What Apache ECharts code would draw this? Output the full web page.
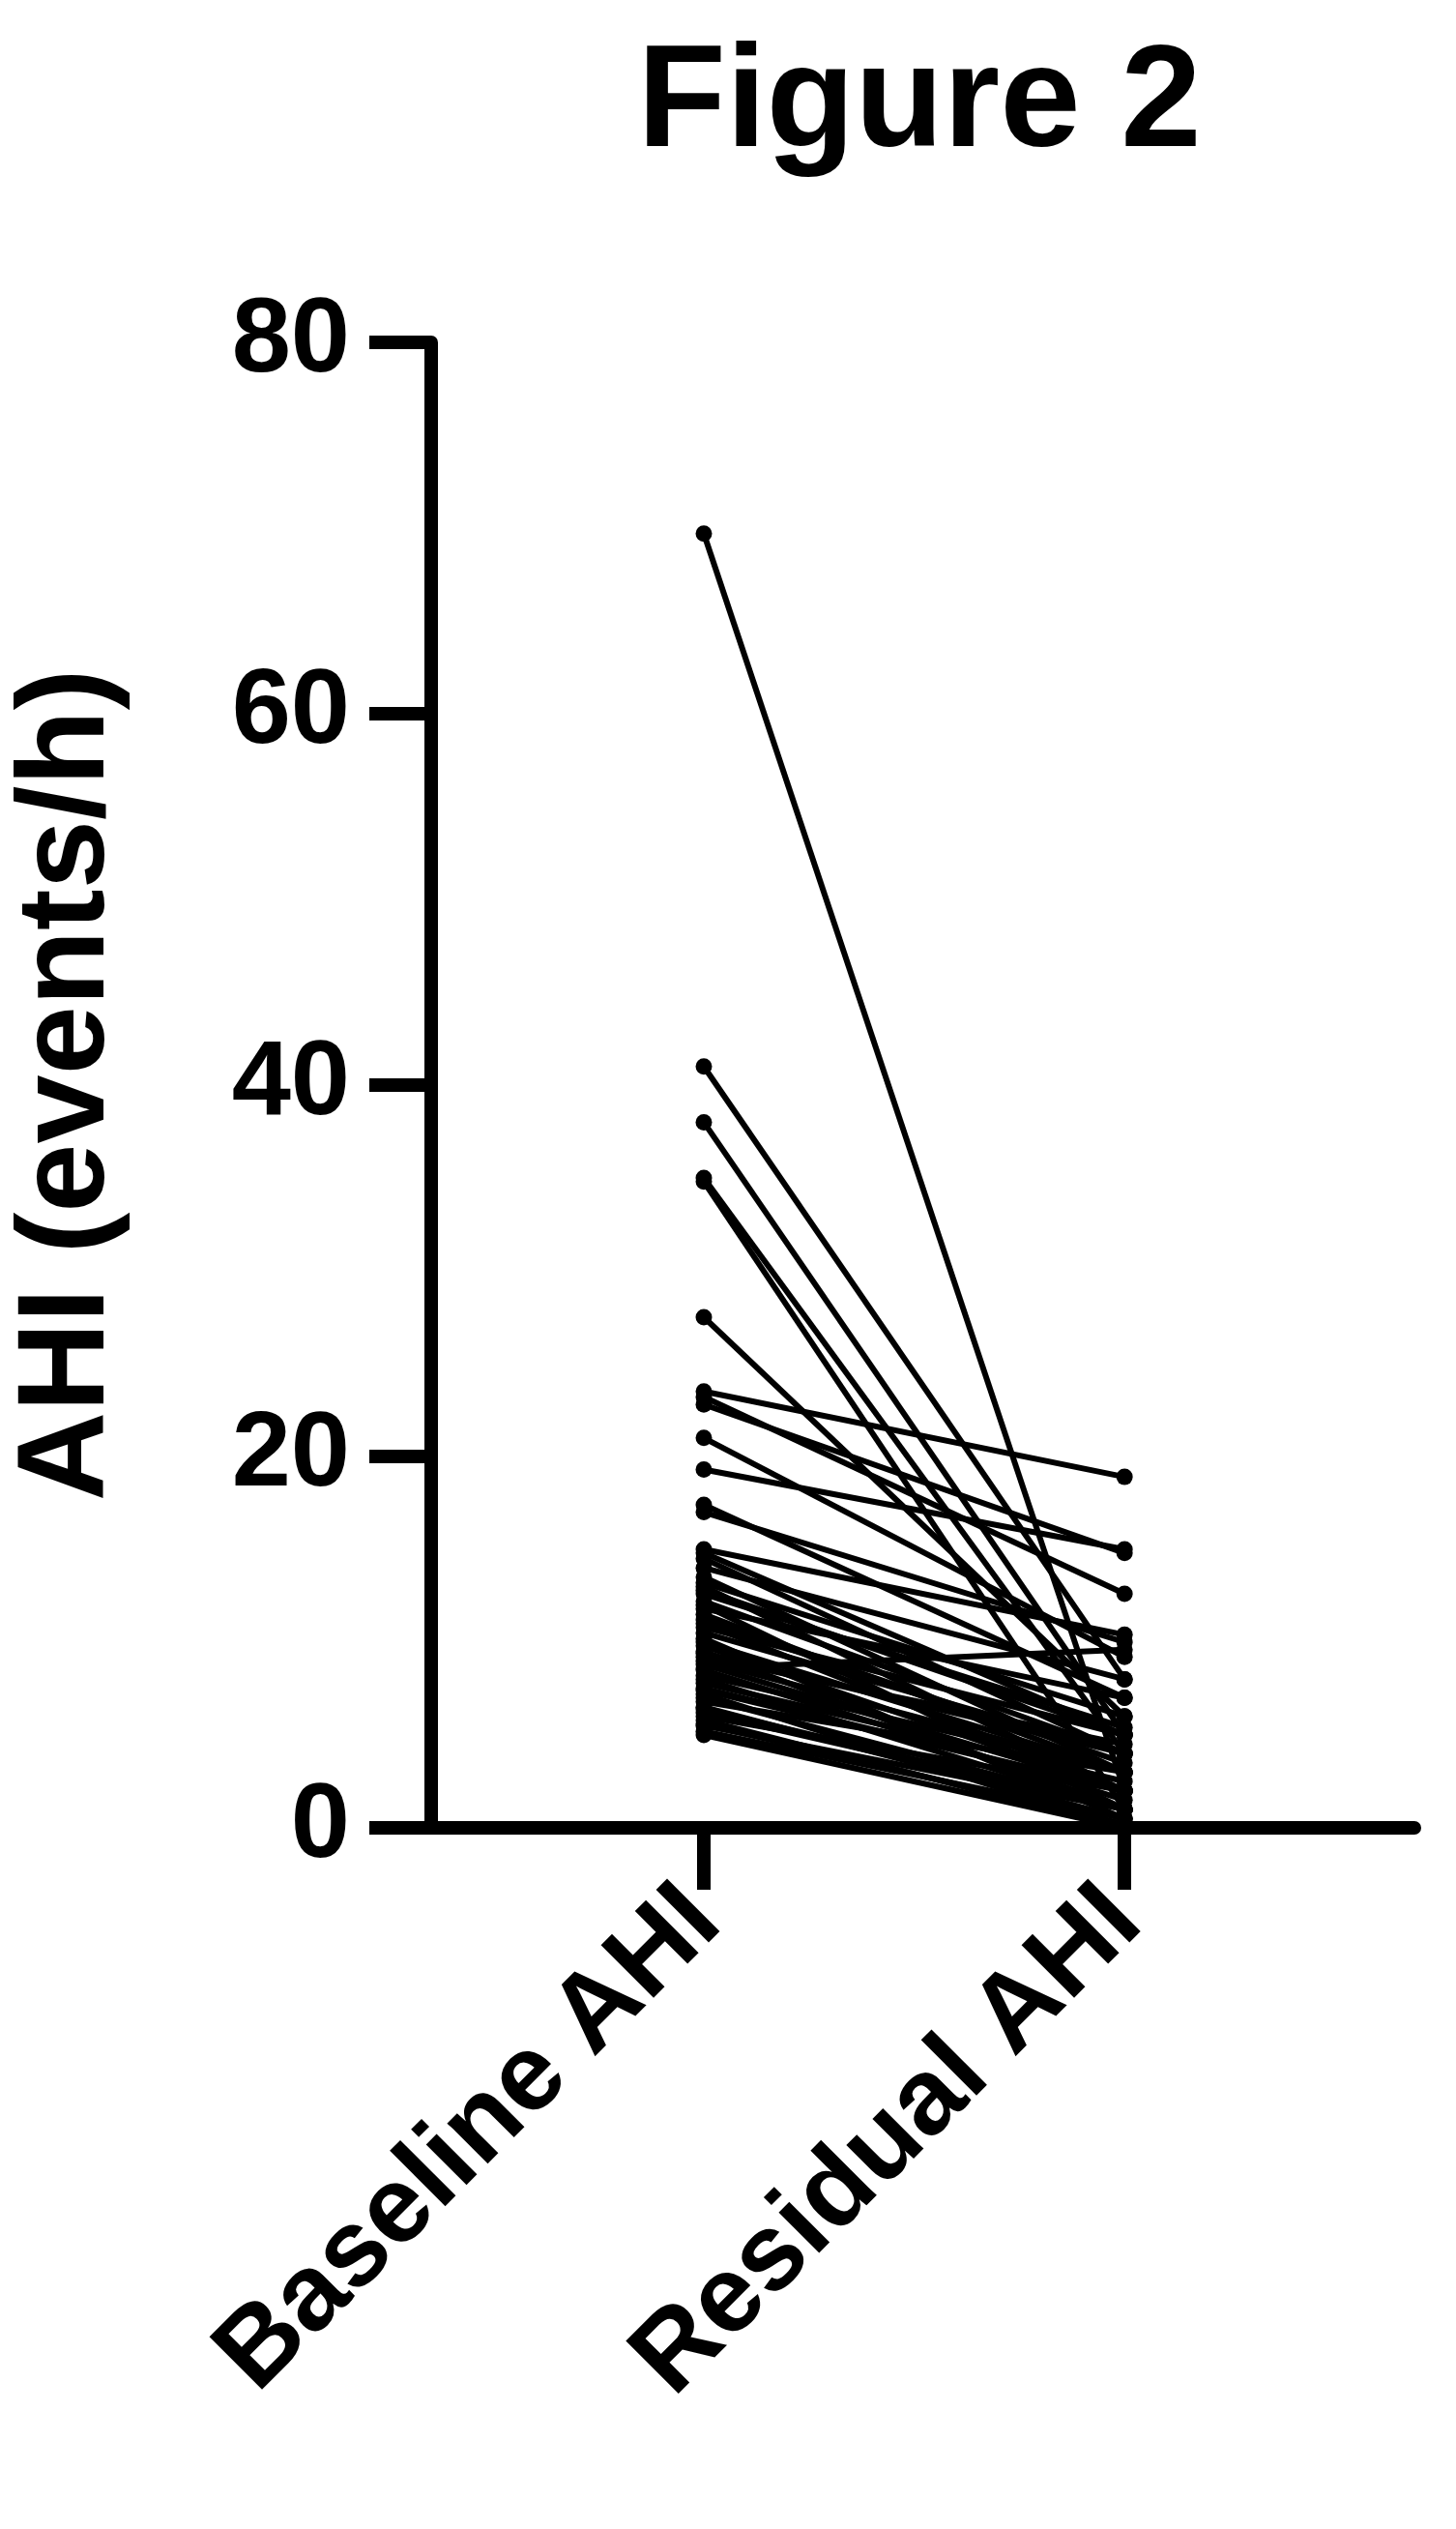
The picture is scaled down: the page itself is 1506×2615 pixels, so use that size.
<!DOCTYPE html>
<html><head><meta charset="utf-8">
<script src="https://cdn.jsdelivr.net/npm/echarts@6/dist/echarts.min.js"></script>
<style>html,body{margin:0;padding:0;background:#fff}#c{width:1506px;height:2615px}</style>
</head><body><div id="c"></div>
<script>
const categories = ['Baseline AHI', 'Residual AHI'];
const yTicks = [0, 20, 40, 60, 80];
const baseline = [69.7,41,38,35,34.8,27.5,23.5,23.2,22.8,21,19.3,17.4,17,15,14.8,14.5,14,13.5,13.2,13,12.6,12.2,12,11.8,11.5,11,10.8,10.5,10.2,10,9.8,9.5,9.2,9,8.8,8.5,8.2,8,7.8,7.5,7.2,7,6.8,6.5,6.2,6,5.8,5.5,5.2,5,8.6,9.4,11.2,6.4,7.4,12.8,5.6];
const residual = [2,8,5,4,1,6,18.9,12.6,14.8,9.2,15,7,10,10.4,5,4,8,3,6,2,5.4,4,1,7,3,2,5,4,0.5,3,2,1,4.5,3,2,1.5,3,1,2.5,2,0,1,3,0.5,1,2,0,1,0.5,0,9.6,4,3.5,1,2,5,0.2];

const series = baseline.map((b, i) => ({
  type: 'line', data: [[0, b], [1, residual[i]]],
  symbol: 'circle', symbolSize: 17, silent: true,
  lineStyle: {color: '#000', width: 6}, itemStyle: {color: '#000'}
}));

const font = '"Liberation Sans", Arial, sans-serif';
const chart = echarts.init(document.getElementById('c'));
chart.setOption({
  animation: false,
  title: {text: 'Figure 2', left: 946, textAlign: 'center', top: 30,
    textStyle: {fontFamily: font, fontWeight: 'bold', fontSize: 150, color: '#000'}},
  grid: {left: 435, right: 43, top: 354, bottom: 2615 - 1890},
  xAxis: {type: 'value', min: -0.648, max: 1.689,
    splitLine: {show: false},
    axisLine: {lineStyle: {color: '#000', width: 14}},
    axisTick: {customValues: [0, 1], length: 64, lineStyle: {color: '#000', width: 14}},
    axisLabel: {customValues: [0, 1], rotate: 45, margin: 80, color: '#000',
      fontFamily: font, fontWeight: 'bold', fontSize: 112,
      formatter: v => categories[Math.round(v)]}},
  yAxis: {type: 'value', min: 0, max: 80, interval: 20,
    name: 'AHI (events/h)', nameLocation: 'middle', nameGap: 310, nameRotate: 90,
    nameTextStyle: {fontFamily: font, fontWeight: 'bold', fontSize: 128, color: '#000'},
    splitLine: {show: false},
    axisLine: {show: true, onZero: false, lineStyle: {color: '#000', width: 14}},
    axisTick: {show: true, length: 64, lineStyle: {color: '#000', width: 14}},
    axisLabel: {margin: 84, color: '#000', fontFamily: font, fontWeight: 'bold', fontSize: 110,
      formatter: v => yTicks.includes(v) ? String(v) : ''}},
  series
});
</script></body></html>
